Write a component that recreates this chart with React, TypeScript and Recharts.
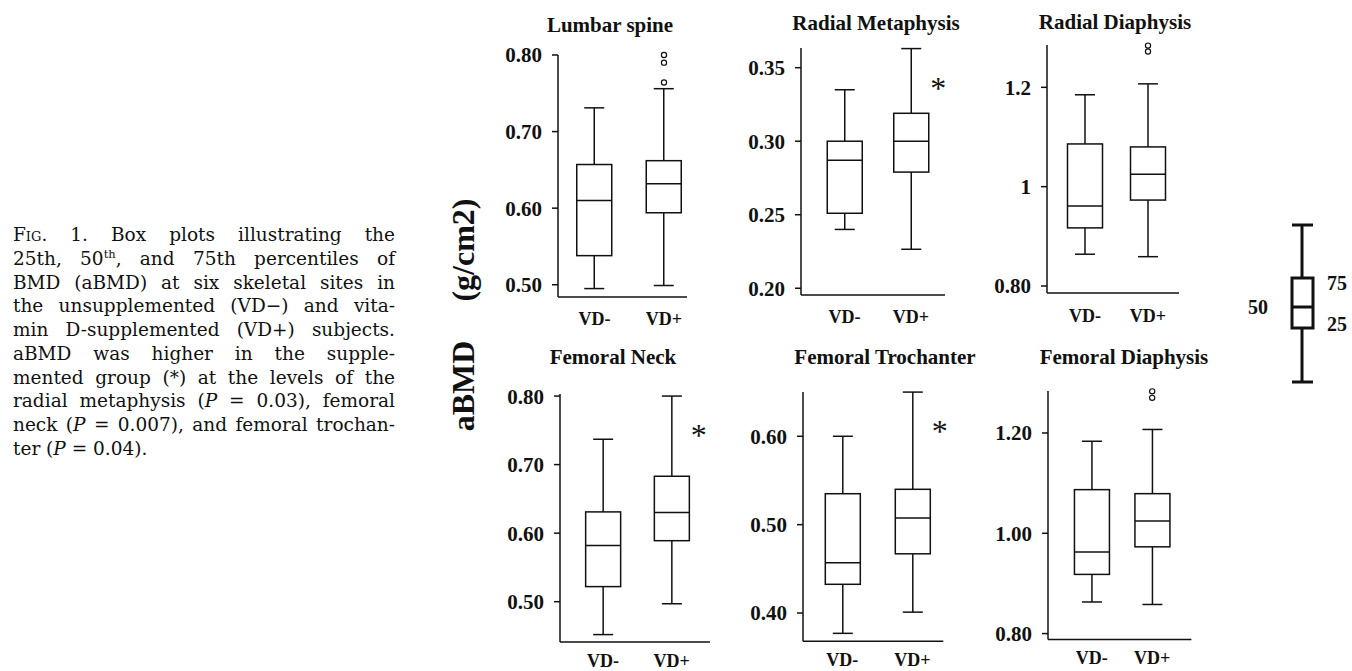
import React from 'react';
import { ComposedChart, Bar, Scatter, XAxis, YAxis } from 'recharts';

const groups = ['VD-', 'VD+'];

// [lower whisker, 25th, 50th, 75th, upper whisker] for VD- and VD+
const lumbarSpine = [
  [0.495, 0.538, 0.61, 0.657, 0.731],
  [0.499, 0.594, 0.632, 0.662, 0.756],
];
const radialMetaphysis = [
  [0.24, 0.251, 0.287, 0.3, 0.335],
  [0.2265, 0.279, 0.3, 0.319, 0.363],
];
const radialDiaphysis = [
  [0.864, 0.917, 0.961, 1.086, 1.185],
  [0.859, 0.973, 1.025, 1.08, 1.207],
];
const femoralNeck = [
  [0.452, 0.522, 0.582, 0.631, 0.737],
  [0.497, 0.589, 0.63, 0.683, 0.8],
];
const femoralTrochanter = [
  [0.377, 0.4325, 0.457, 0.535, 0.6],
  [0.401, 0.467, 0.5075, 0.54, 0.65],
];
const femoralDiaphysis = [
  [0.863, 0.918, 0.9625, 1.087, 1.1835],
  [0.858, 0.973, 1.0245, 1.079, 1.207],
];

// outliers, all in the VD+ group
const lumbarOutliers = [0.8, 0.79, 0.764];
const radialDiaOutliers = [1.284, 1.272];
const femoralDiaOutliers = [1.283, 1.27];

const lumbarTicks = [0.5, 0.6, 0.7, 0.8];
const radialMetTicks = [0.2, 0.25, 0.3, 0.35];
const radialDiaTicks = [0.8, 1, 1.2];
const radialDiaTickLabels = ['0.80', '1', '1.2'];
const femoralNeckTicks = [0.5, 0.6, 0.7, 0.8];
const femoralTrochTicks = [0.4, 0.5, 0.6];
const femoralDiaTicks = [0.8, 1.0, 1.2];

const FONT = "'Liberation Serif', 'Times New Roman', serif";
const INK = '#111';

const fixed2 = (v: number) => v.toFixed(2);

const panels = [
  {
    title: 'Lumbar spine', stats: lumbarSpine, outliers: lumbarOutliers, ticks: lumbarTicks, fmt: fixed2,
    domain: [0.484, 0.8], sig: false,
    axisX: 558, axisEnd: 687, c1: 594.5, c2: 664, top: 55, bottom: 297, titleX: 610, titleY: 25, gap: 15,
  },
  {
    title: 'Radial Metaphysis', stats: radialMetaphysis, outliers: [], ticks: radialMetTicks, fmt: fixed2,
    domain: [0.1954, 0.3634], sig: true,
    axisX: 801, axisEnd: 945, c1: 844.5, c2: 911, top: 48, bottom: 295, titleX: 876, titleY: 23, gap: 15,
  },
  {
    title: 'Radial Diaphysis', stats: radialDiaphysis, outliers: radialDiaOutliers, ticks: radialDiaTicks,
    fmt: (v: number) => radialDiaTickLabels[radialDiaTicks.indexOf(v)] ?? String(v),
    domain: [0.7859, 1.2852], sig: false,
    axisX: 1047, axisEnd: 1179, c1: 1085, c2: 1148, top: 45, bottom: 293, titleX: 1115, titleY: 22, gap: 16,
  },
  {
    title: 'Femoral Neck', stats: femoralNeck, outliers: [], ticks: femoralNeckTicks, fmt: fixed2,
    domain: [0.4412, 0.803], sig: true,
    axisX: 560, axisEnd: 710, c1: 603, c2: 671.7, top: 394, bottom: 642, titleX: 613, titleY: 357, gap: 12,
  },
  {
    title: 'Femoral Trochanter', stats: femoralTrochanter, outliers: [], ticks: femoralTrochTicks, fmt: fixed2,
    domain: [0.368, 0.6501], sig: true,
    axisX: 802.7, axisEnd: 943, c1: 842, c2: 912, top: 391.7, bottom: 641, titleX: 885, titleY: 357, gap: 12,
  },
  {
    title: 'Femoral Diaphysis', stats: femoralDiaphysis, outliers: femoralDiaOutliers, ticks: femoralDiaTicks, fmt: fixed2,
    domain: [0.788, 1.2837], sig: false,
    axisX: 1048.3, axisEnd: 1191.7, c1: 1092, c2: 1152.5, top: 390.7, bottom: 639.3, titleX: 1124, titleY: 357, gap: 12,
  },
];

function BoxShape(props: any) {
  const { x, y, width, height, payload } = props;
  if (!payload || height == null) return null;
  const { min, q1, med, q3, max, sig } = payload;
  // linear map inside the whisker range the library already scaled
  const py = (v: number) => y + ((max - v) / (max - min)) * height;
  const cx = x + width / 2;
  const cap = 10;
  return (
    <g stroke={INK} strokeWidth={1.5}>
      <line x1={cx} x2={cx} y1={py(max)} y2={py(q3)} />
      <line x1={cx} x2={cx} y1={py(q1)} y2={py(min)} />
      <line x1={cx - cap} x2={cx + cap} y1={py(max)} y2={py(max)} />
      <line x1={cx - cap} x2={cx + cap} y1={py(min)} y2={py(min)} />
      <rect x={x} y={py(q3)} width={width} height={py(q1) - py(q3)} fill="#fff" />
      <line x1={x} x2={x + width} y1={py(med)} y2={py(med)} />
      {sig && (
        <text x={cx + 27} y={py(max) + 50} textAnchor="middle" fontSize={32} fontFamily={FONT} fill={INK} stroke="none">
          *
        </text>
      )}
    </g>
  );
}

const OutlierDot = (props: any) => (
  <circle cx={props.cx} cy={props.cy} r={2.6} fill="#fff" stroke={INK} strokeWidth={1.2} />
);

function Panel({ p }: { p: any }) {
  const YW = 70;
  const MT = 12;
  const MR = 12;
  const XH = 40;
  const width = YW + (p.axisEnd - p.axisX) + MR;
  const height = MT + (p.bottom - p.top) + XH;
  const d = p.c2 - p.c1;
  const xDomain = [1 - (p.c1 - p.axisX) / d, 2 + (p.axisEnd - p.c2) / d];
  const data = p.stats.map((s: number[], i: number) => ({
    x: i + 1,
    group: groups[i],
    min: s[0],
    q1: s[1],
    med: s[2],
    q3: s[3],
    max: s[4],
    sig: p.sig && i === 1,
  }));
  const outliers = p.outliers.map((v: number) => ({ x: 2, v }));
  return (
    <div style={{ position: 'absolute', left: p.axisX - YW, top: p.top - MT }}>
      <ComposedChart width={width} height={height} data={data} margin={{ top: MT, right: MR, left: 0, bottom: 0 }}>
        <XAxis
          type="number"
          dataKey="x"
          domain={xDomain}
          ticks={[1, 2]}
          interval={0}
          tickFormatter={(v: number) => groups[v - 1]}
          height={XH}
          axisLine={{ stroke: INK, strokeWidth: 1.5 }}
          tickLine={false}
          tickSize={0}
          tickMargin={p.gap}
          tick={{ fontFamily: FONT, fontSize: 18, fontWeight: 700, fill: INK }}
        />
        <YAxis
          type="number"
          domain={p.domain}
          ticks={p.ticks}
          interval={0}
          tickFormatter={p.fmt}
          width={YW}
          axisLine={{ stroke: INK, strokeWidth: 1.5 }}
          tickLine={{ stroke: INK, strokeWidth: 1.5 }}
          tickSize={6}
          tickMargin={10}
          tick={{ fontFamily: FONT, fontSize: 21, fontWeight: 700, fill: INK }}
        />
        <Bar
          dataKey={(e: any) => [e.min, e.max]}
          barSize={35}
          shape={<BoxShape />}
          isAnimationActive={false}
        />
        {outliers.length > 0 && (
          <Scatter data={outliers} dataKey="v" shape={<OutlierDot />} isAnimationActive={false} />
        )}
      </ComposedChart>
    </div>
  );
}

const lineStyle: React.CSSProperties = { textAlign: 'justify', textAlignLast: 'justify' };

function Caption() {
  return (
    <div
      style={{
        position: 'absolute',
        left: 13,
        top: 223,
        width: 382,
        fontFamily: "'DejaVu Serif', serif",
        fontSize: 18.5,
        lineHeight: '23.75px',
        color: INK,
      }}
    >
      <div style={lineStyle}>
        F<span style={{ fontVariant: 'small-caps' }}>ig</span>. 1. Box plots illustrating the
      </div>
      <div style={lineStyle}>
        25th, 50<sup style={{ fontSize: '0.62em', lineHeight: 0 }}>th</sup>, and 75th percentiles of
      </div>
      <div style={lineStyle}>BMD (aBMD) at six skeletal sites in</div>
      <div style={lineStyle}>the unsupplemented (VD−) and vita-</div>
      <div style={lineStyle}>min D-supplemented (VD+) subjects.</div>
      <div style={lineStyle}>aBMD was higher in the supple-</div>
      <div style={lineStyle}>mented group (*) at the levels of the</div>
      <div style={lineStyle}>
        radial metaphysis (<i>P</i> = 0.03), femoral
      </div>
      <div style={lineStyle}>
        neck (<i>P</i> = 0.007), and femoral trochan-
      </div>
      <div>
        ter (<i>P</i> = 0.04).
      </div>
    </div>
  );
}

export default function App() {
  return (
    <div style={{ position: 'absolute', left: 0, top: 0, width: 1352, height: 671, background: '#fff', overflow: 'hidden' }}>
      <Caption />
      <svg width={1352} height={671} style={{ position: 'absolute', left: 0, top: 0 }}>
        {panels.map((p) => (
          <text
            key={p.title}
            x={p.titleX}
            y={p.titleY}
            textAnchor="middle"
            dominantBaseline="central"
            fontFamily={FONT}
            fontWeight={700}
            fontSize={21}
            fill={INK}
          >
            {p.title}
          </text>
        ))}
        <text transform="translate(463,386) rotate(-90)" textAnchor="middle" dominantBaseline="central"
          fontFamily={FONT} fontWeight={700} fontSize={32} fill={INK}>
          aBMD
        </text>
        <text transform="translate(463,250) rotate(-90)" textAnchor="middle" dominantBaseline="central"
          fontFamily={FONT} fontWeight={700} fontSize={32} fill={INK}>
          (g/cm2)
        </text>
        {/* key */}
        <g stroke={INK} strokeWidth={3} fill="none">
          <line x1={1302} x2={1302} y1={225} y2={278} />
          <line x1={1302} x2={1302} y1={328} y2={382} />
          <line x1={1292} x2={1313} y1={225} y2={225} />
          <line x1={1292} x2={1313} y1={382} y2={382} />
          <rect x={1292} y={278} width={21} height={50} />
          <line x1={1292} x2={1313} y1={307} y2={307} />
        </g>
        <g fontFamily={FONT} fontWeight={700} fontSize={20} fill={INK} dominantBaseline="central">
          <text x={1268} y={307} textAnchor="end">50</text>
          <text x={1327} y={283}>75</text>
          <text x={1327} y={324}>25</text>
        </g>
      </svg>
      {panels.map((p) => (
        <Panel key={p.title} p={p} />
      ))}
    </div>
  );
}
